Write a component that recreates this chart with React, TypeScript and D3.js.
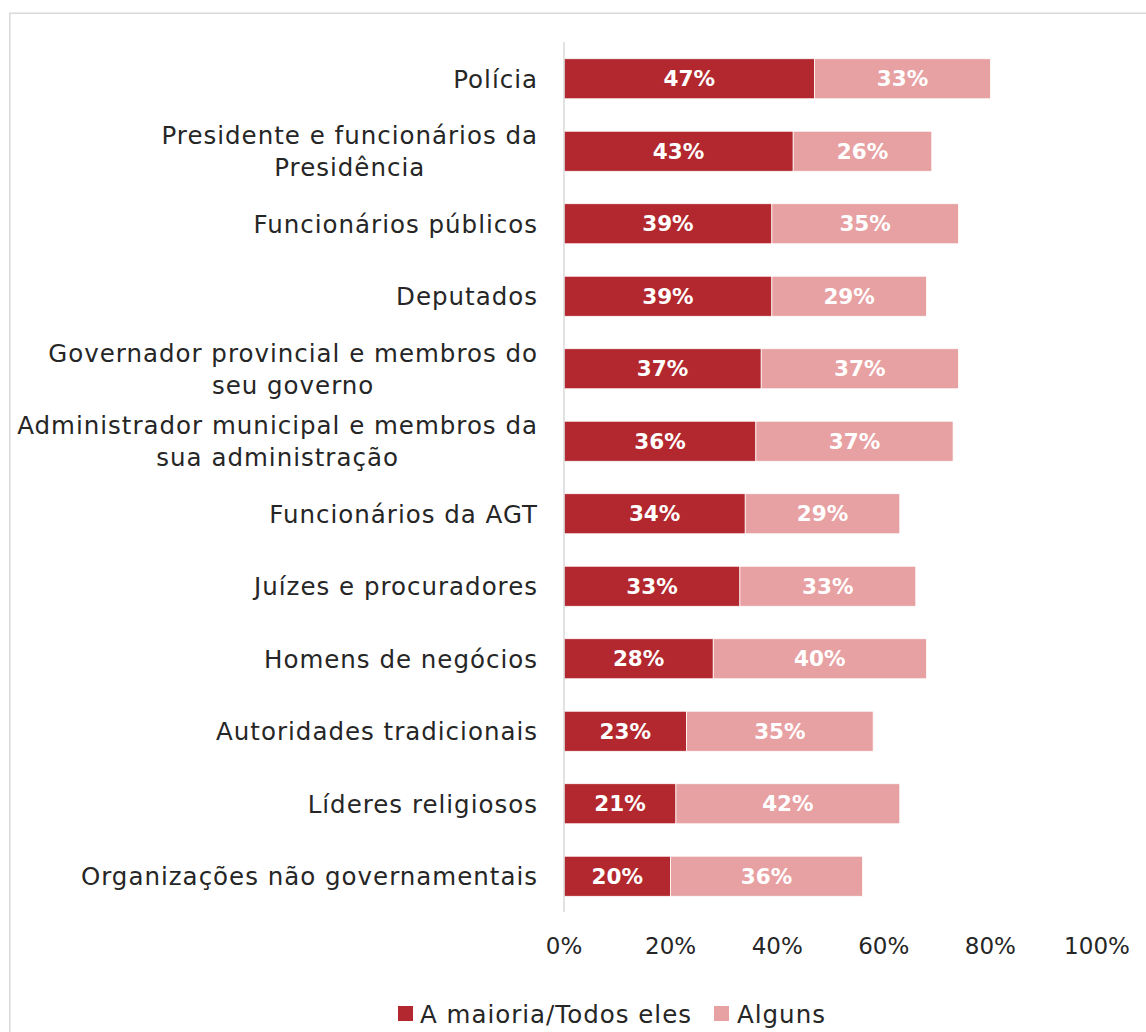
import React from "react";
import * as d3 from "d3";

const categories: string[][] = [
  ["Polícia"],
  ["Presidente e funcionários da", "Presidência"],
  ["Funcionários públicos"],
  ["Deputados"],
  ["Governador provincial e membros do", "seu governo"],
  ["Administrador municipal e membros da", "sua administração"],
  ["Funcionários da AGT"],
  ["Juízes e procuradores"],
  ["Homens de negócios"],
  ["Autoridades tradicionais"],
  ["Líderes religiosos"],
  ["Organizações não governamentais"],
];
const maioria = [47, 43, 39, 39, 37, 36, 34, 33, 28, 23, 21, 20];
const alguns = [33, 26, 35, 29, 37, 37, 29, 33, 40, 35, 42, 36];
const ticks = [0, 20, 40, 60, 80, 100];
const seriesNames = ["A maioria/Todos eles", "Alguns"];
const colors = ["#B3282E", "#E8A1A3"];

const FONT = "'Century Gothic', 'DejaVu Sans', sans-serif";

export default function App() {
  const W = 1146, H = 1032;
  const x = d3.scaleLinear().domain([0, 100]).range([564, 1097]);
  const y = d3.scaleBand<number>().domain(d3.range(categories.length)).range([42.5, 912.5]).paddingInner(0.448).paddingOuter(0.224);
  const bh = y.bandwidth();
  const labelX = 538;
  const catFont = 24.5;
  const ls = 1;
  const lineH = 32;

  return (
    <svg width={W} height={H} style={{ position: "absolute", left: 0, top: 0 }} fontFamily={FONT}>
      <rect x={0} y={0} width={W} height={H} fill="#fff" />
      <rect x={9.75} y={13.25} width={W + 20} height={H + 20} fill="none" stroke="#D9D9D9" strokeWidth={1.5} />
      {categories.map((lines, i) => {
        const cy = (y(i) as number) + bh / 2;
        const m = maioria[i], a = alguns[i];
        return (
          <g key={i}>
            <rect x={x(0)} y={y(i)} width={x(m) - x(0)} height={bh} fill={colors[0]} stroke="#fff" strokeWidth={0.75} />
            <rect x={x(m)} y={y(i)} width={x(m + a) - x(m)} height={bh} fill={colors[1]} stroke="#fff" strokeWidth={0.75} />
            <text x={(x(0) + x(m)) / 2} y={cy} dy="0.36em" textAnchor="middle" fill="#fff" fontWeight="bold" fontSize={21.5}>{m}%</text>
            <text x={(x(m) + x(m + a)) / 2} y={cy} dy="0.36em" textAnchor="middle" fill="#fff" fontWeight="bold" fontSize={21.5}>{a}%</text>
            {lines.length === 1 ? (
              <text x={labelX} y={cy} dy="0.36em" textAnchor="end" fill="#262626" fontSize={catFont} letterSpacing={ls}>{lines[0]}</text>
            ) : (
              <CatLabel lines={lines} cy={cy} right={labelX} fs={catFont} lh={lineH} ls={ls} />
            )}
          </g>
        );
      })}
      <line x1={x(0)} x2={x(0)} y1={42} y2={912} stroke="#D9D9D9" strokeWidth={1.5} />
      {ticks.map((t) => (
        <text key={t} x={x(t)} y={946} dy="0.36em" textAnchor="middle" fill="#262626" fontSize={23}>{t}%</text>
      ))}
      <rect x={398} y={1006} width={15} height={15} fill={colors[0]} />
      <text x={420} y={1014} dy="0.36em" fill="#262626" fontSize={catFont} letterSpacing={ls}>{seriesNames[0]}</text>
      <rect x={714} y={1006} width={15} height={15} fill={colors[1]} />
      <text x={737} y={1014} dy="0.36em" fill="#262626" fontSize={catFont} letterSpacing={ls}>{seriesNames[1]}</text>
    </svg>
  );
}

function CatLabel({ lines, cy, right, fs, lh, ls }: { lines: string[]; cy: number; right: number; fs: number; lh: number; ls: number }) {
  const ref = React.useRef<SVGGElement>(null);
  const [center, setCenter] = React.useState<number | null>(null);
  React.useEffect(() => {
    if (!ref.current) return;
    const t = ref.current.querySelector("text");
    if (t) {
      const bb = (t as SVGTextElement).getBBox();
      setCenter(right - bb.width / 2);
    }
  }, [right]);
  const c = center ?? right - 180;
  const y0 = cy - ((lines.length - 1) * lh) / 2;
  return (
    <g ref={ref}>
      {lines.map((l, k) => (
        <text key={k} x={c} y={y0 + k * lh} dy="0.36em" textAnchor="middle" fill="#262626" fontSize={fs} letterSpacing={ls}>{l}</text>
      ))}
    </g>
  );
}
